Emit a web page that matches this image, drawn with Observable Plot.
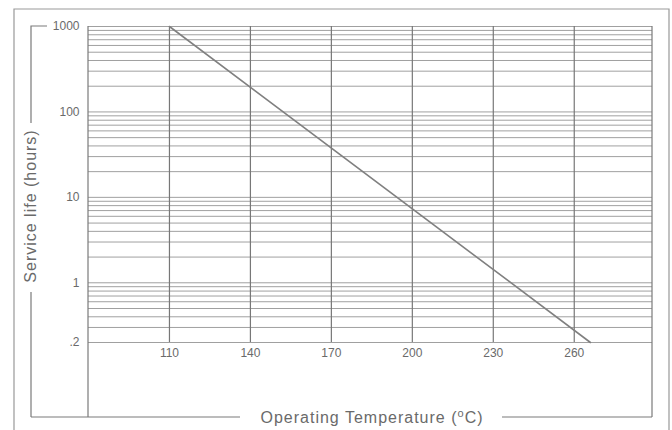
<!DOCTYPE html>
<html>
<head>
<meta charset="utf-8">
<script src="https://cdn.jsdelivr.net/npm/d3@7"></script>
<script src="https://cdn.jsdelivr.net/npm/@observablehq/plot@0.6"></script>
<style>
  html, body { margin: 0; padding: 0; background: #fff; }
  #chart svg { display: block; }
</style>
</head>
<body>
<div id="chart"></div>
<script>
// ---- data ----
const xTicks = [110, 140, 170, 200, 230, 260];
const yTicks = [0.2, 1, 10, 100, 1000];
const yTickLabels = [".2", "1", "10", "100", "1000"];
const yGrid = [0.2, 0.3, 0.4, 0.5, 0.6, 0.7, 0.8, 0.9,
               1, 2, 3, 4, 5, 6, 7, 8, 9,
               10, 20, 30, 40, 50, 60, 70, 80, 90,
               100, 200, 300, 400, 500, 600, 700, 800, 900, 1000];
const lifeTemp = [110, 266];
const lifeHours = [1000, 0.2];
const xTitle = "Operating Temperature (";
const yTitle = "Service life (hours)";

const lifeData = lifeTemp.map((t, i) => ({temp: t, hours: lifeHours[i]}));

const W = 672, H = 430;
const mL = 88, mR = 20, mT = 26, mB = 13;
const font = "'Liberation Sans', Arial, Helvetica, sans-serif";
const ink = "#6a6a6a";

const chart = Plot.plot({
  width: W,
  height: H,
  marginLeft: mL,
  marginRight: mR,
  marginTop: mT,
  marginBottom: mB,
  style: {fontFamily: font, background: "#fff"},
  x: {domain: [80, 289], axis: null},
  y: {type: "log", domain: [0.2, 1000], range: [342, mT], axis: null},
  marks: [
    Plot.ruleY(yGrid, {stroke: "#a0a0a0", strokeWidth: 1}),
    Plot.ruleX(xTicks, {y1: 0.2, y2: 1000, stroke: "#777", strokeWidth: 1.2}),
    Plot.line(lifeData, {x: "temp", y: "hours", stroke: "#808080", strokeWidth: 1.6}),
    Plot.axisY(yTicks, {
      anchor: "left", tickSize: 0, tickPadding: 9, label: null,
      tickFormat: (d) => yTickLabels[yTicks.indexOf(d)],
      fontSize: 12, fill: ink
    }),
    Plot.text(xTicks, {x: (d) => d, y: 0.2, dy: 11, text: (d) => String(d),
      fontSize: 12, fill: ink})
  ]
});

document.getElementById("chart").appendChild(chart);

// ---- decorative frame, bracket and titles ----
const svg = d3.select(chart);
const g = svg.append("g").attr("fill", "none").attr("stroke", "#7a7a7a").attr("stroke-width", 1.2);
const right = W - mR, bottom = H - mB;
// outer border of the figure
g.append("path").attr("d", `M14,${H} V9 H669 V${H}`).attr("stroke", "#999");
// plot frame: left, right and bottom with a gap for the title
g.append("path").attr("d", `M${mL},${mT} V${bottom}`);
g.append("path").attr("d", `M${right},${mT} V${bottom}`);
g.append("path").attr("d", `M31,${bottom} H240`);
g.append("path").attr("d", `M502,${bottom} H${right}`);
// y-title bracket
g.append("path").attr("d", `M47,${mT} H31 V123`);
g.append("path").attr("d", `M31,292 V${bottom}`);

// y title
svg.append("text")
  .attr("transform", "translate(36,206) rotate(-90)")
  .attr("text-anchor", "middle")
  .attr("font-family", font)
  .attr("font-size", 16)
  .attr("letter-spacing", 1)
  .attr("fill", ink)
  .text(yTitle);

// x title with superscript degree
const xt = svg.append("text")
  .attr("x", 372).attr("y", 423)
  .attr("text-anchor", "middle")
  .attr("font-family", font)
  .attr("font-size", 16)
  .attr("letter-spacing", 1)
  .attr("fill", ink);
xt.append("tspan").text(xTitle);
xt.append("tspan").attr("font-size", 11).attr("dy", -6).text("o");
xt.append("tspan").attr("dy", 6).text("C)");
</script>
</body>
</html>
